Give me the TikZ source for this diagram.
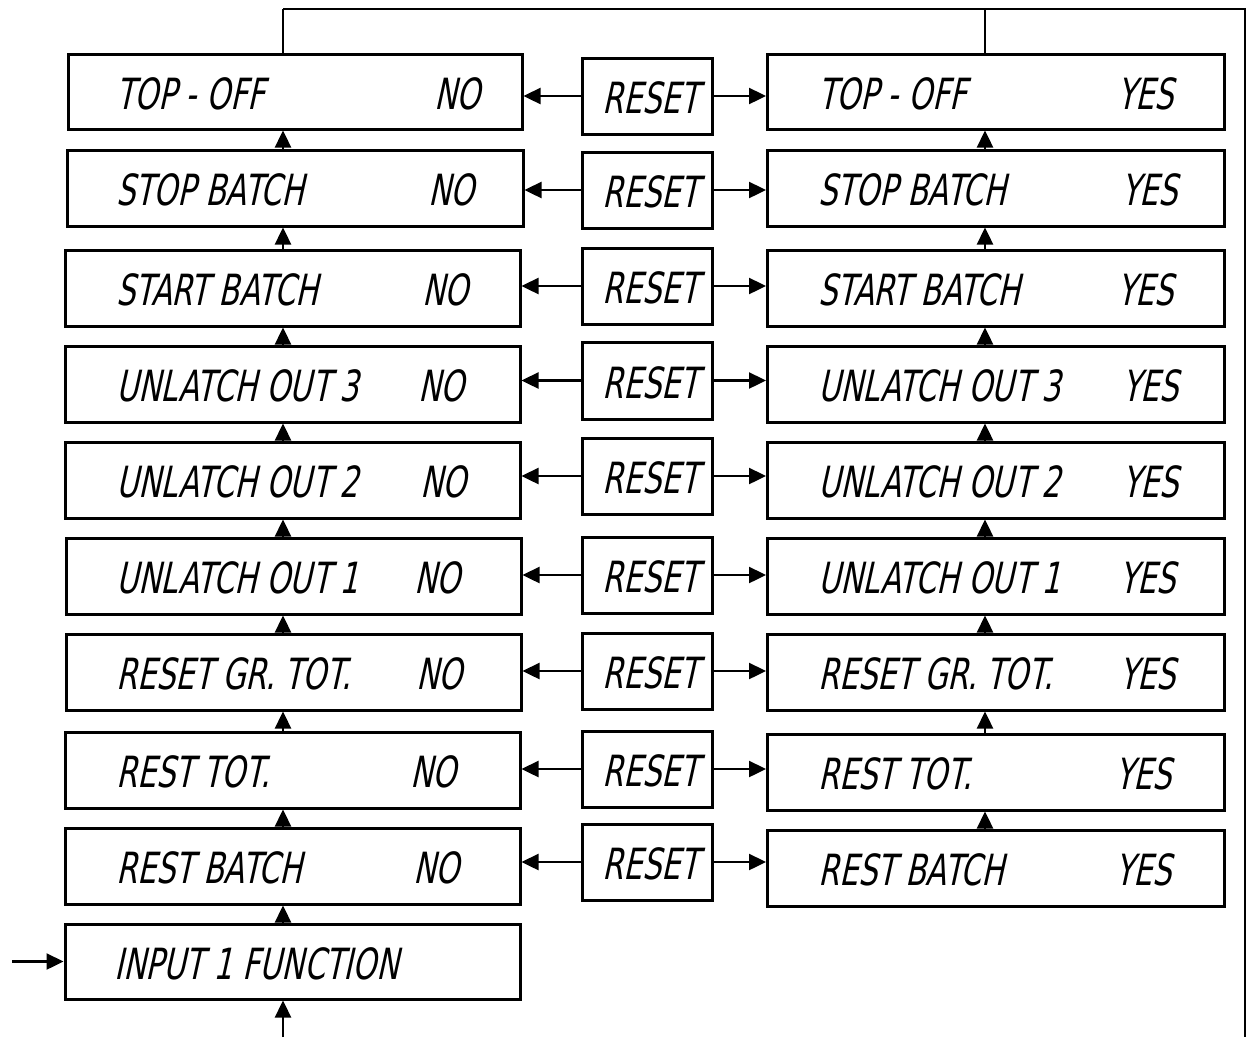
\documentclass[tikz,border=0pt]{standalone}
\usepackage{fontspec}
\usetikzlibrary{arrows.meta,calc}
\newfontfamily\lcd{DejaVu Sans}[FakeStretch=0.70,FakeSlant=0.22]
\tikzset{
  box/.style={draw,line width=3pt,rectangle,inner sep=0pt},
  txt/.style={anchor=west,inner sep=0pt,font=\lcd\fontsize{43}{43}\selectfont},
  ctxt/.style={inner sep=0pt,font=\lcd\fontsize{43}{43}\selectfont},
  arr/.style={line width=2.4pt,-{Triangle[length=17pt,width=16pt]}},
  loopline/.style={line width=2.6pt},
  thinline/.style={line width=1.6pt}
}
\begin{document}
\begin{tikzpicture}[x=1pt,y=-1pt]
\useasboundingbox (0,0) rectangle (1248,1037);
\coordinate (cxl) at (283,0);
\coordinate (cxr) at (985,0);
% rows: index / left x1 / left x2 / left y1 / left y2 / right y1 / right y2 / reset y1 / reset y2 / label / NO x / YES x
\foreach \i/\lxa/\lxb/\lya/\lyb/\rya/\ryb/\sya/\syb/\lab/\nox/\yesx in {
 1/68/522/54/129/54/129/58/134/{TOP - OFF}/434/1117,
 2/67/523/150/226/150/226/152/228/{STOP BATCH}/428/1121,
 3/65/520/250/326/250/326/248/324/{START BATCH}/422/1117,
 4/65/520/346/422/346/422/342/419/{UNLATCH OUT 3}/418/1122,
 5/65/520/442/518/442/518/438/514/{UNLATCH OUT 2}/420/1122,
 6/66/521/538/614/538/614/537/613/{UNLATCH OUT 1}/414/1119,
 7/66/521/634/710/634/710/633/709/{RESET GR. TOT.}/416/1119,
 8/65/520/732/808/734/810/731/807/{REST TOT.}/410/1115,
 9/65/520/828/904/830/906/824/900/{REST BATCH}/413/1115}
{
  \node[box,minimum width={\lxb-\lxa},minimum height={\lyb-\lya}] (L\i) at ({(\lxa+\lxb)/2},{(\lya+\lyb)/2}) {};
  \node[box,minimum width=457,minimum height={\ryb-\rya}] (R\i) at (996,{(\rya+\ryb)/2}) {};
  \node[box,minimum width=130,minimum height={\syb-\sya}] (S\i) at (647,{(\sya+\syb)/2}) {};
  \node[txt] (LT\i) at (116,{(\lya+\lyb)/2+2}) {\lab};
  \node[txt] (LV\i) at (\nox,{(\lya+\lyb)/2+2}) {NO};
  \node[txt] (RT\i) at (818,{(\rya+\ryb)/2+2}) {\lab};
  \node[txt] (RV\i) at (\yesx,{(\rya+\ryb)/2+2}) {YES};
  \node[ctxt] (ST\i) at (651,{(\sya+\syb)/2+2}) {RESET};
  \draw[arr] (S\i.west) -- (S\i.west -| L\i.east);
  \draw[arr] (S\i.east) -- (S\i.east -| R\i.west);
}
\node[box,minimum width=455,minimum height=75] (IN) at (292.5,961.5) {};
\node[txt] (INT) at (114,963.5) {INPUT 1 FUNCTION};
% vertical arrows
\foreach \a/\b in {2/1,3/2,4/3,5/4,6/5,7/6,8/7,9/8}{
  \draw[arr] (L\a.north -| cxl) -- (L\b.south -| cxl);
  \draw[arr] (R\a.north -| cxr) -- (R\b.south -| cxr);
}
\draw[arr] (IN.north -| cxl) -- (L9.south -| cxl);
% loop back
\coordinate (tl) at (283,9);
\coordinate (tr) at (1245,9);
\coordinate (br) at (1245,1037);
\draw[thinline] (L1.north -| cxl) -- (tl);
\draw[thinline] (R1.north -| cxr) -- (cxr |- tl);
\draw[loopline] (tl) -- (tr) -- (br);
% entries
\coordinate (in) at (12,961.5);
\draw[arr] (in) -- (IN.west);
\coordinate (bot) at (283,1037);
\draw[arr] (bot) -- (bot |- IN.south);
\end{tikzpicture}
\end{document}
